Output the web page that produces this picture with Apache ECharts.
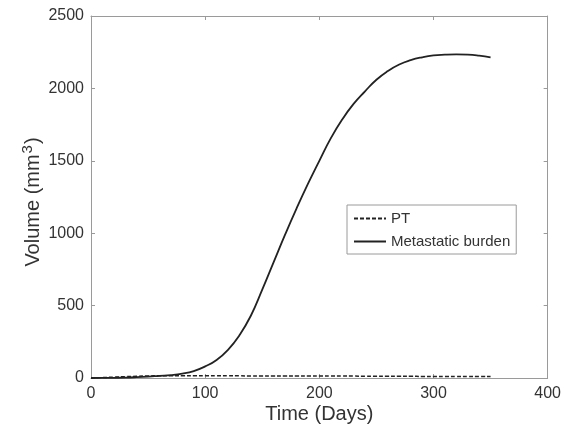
<!DOCTYPE html>
<html>
<head>
<meta charset="utf-8">
<script src="https://cdn.jsdelivr.net/npm/echarts@6/dist/echarts.min.js"></script>
<style>html,body{margin:0;padding:0;background:#fff;}#c{width:564px;height:431px;}</style>
</head>
<body>
<div id="c"></div>
<script>
var days = [0,10,20,30,40,50,60,70,80,90,100,110,120,130,140,150,160,170,180,190,200,210,220,230,240,250,260,270,280,290,300,310,320,330,340,350];
var metastatic = [0,0.5,1.5,3,6,10,15,20,30,48,80,125,195,295,430,610,800,990,1170,1340,1500,1655,1785,1893,1980,2060,2120,2165,2195,2215,2228,2233,2235,2233,2226,2215];
var pt = [0,3,6,9,12,14,15,15,15,15,15,15,15,15,14,14,14,14,14,13,13,13,13,13,12,12,12,12,12,11,11,11,11,11,10,10];
var xTicks = [0,100,200,300,400];
var yTicks = [0,500,1000,1500,2000,2500];
var seriesNames = ['PT','Metastatic burden'];

function pairs(xs, ys){ return xs.map(function(x,i){ return [x, ys[i]]; }); }

var FONT = 'Liberation Sans, Arial, Helvetica, sans-serif';
var chart = echarts.init(document.getElementById('c'), null, {renderer:'canvas'});
function axisCommon(){
  return {
    axisLine:{show:true, onZero:false, lineStyle:{color:'#9a9a9a', width:1}},
    axisTick:{show:true, inside:true, length:4, lineStyle:{color:'#9a9a9a'}},
    splitLine:{show:false}
  };
}
chart.setOption({
  animation:false,
  backgroundColor:'#fff',
  grid:{left:91, right:14, top:16, bottom:53, show:false},
  legend:{
    orient:'vertical', left:347, top:205,
    data:seriesNames,
    itemWidth:32, itemHeight:14, itemGap:8,
    padding:[6,6,5,6],
    borderColor:'#9a9a9a', borderWidth:1,
    itemStyle:{opacity:0},
    textStyle:{fontFamily:FONT, fontSize:15, color:'#333'}
  },
  xAxis:[
    Object.assign({type:'value', min:0, max:400, interval:100, position:'bottom',
      name:'Time (Days)', nameLocation:'middle', nameGap:26, nameMoveOverlap:false,
      nameTextStyle:{fontFamily:FONT, fontSize:20, color:'#333'},
      axisLabel:{fontFamily:FONT, fontSize:16, color:'#333', margin:8,
        formatter:function(v){ return xTicks.indexOf(v)>=0 ? String(v) : ''; }}
    }, axisCommon()),
    Object.assign({type:'value', min:0, max:400, interval:100, position:'top', axisLabel:{show:false}}, axisCommon())
  ],
  yAxis:[
    Object.assign({type:'value', min:0, max:2500, interval:500, position:'left',
      name:'Volume (mm{sup|3})', nameLocation:'middle', nameGap:44, nameMoveOverlap:false,
      nameTextStyle:{fontFamily:FONT, fontSize:20, color:'#333', padding:[0,10,0,0],
        rich:{sup:{fontFamily:FONT, fontSize:15, color:'#333', padding:[0,1,12,1]}}},
      axisLabel:{fontFamily:FONT, fontSize:16, color:'#333', margin:7,
        formatter:function(v){ return yTicks.indexOf(v)>=0 ? String(v) : ''; }}
    }, axisCommon()),
    Object.assign({type:'value', min:0, max:2500, interval:500, position:'right', axisLabel:{show:false}}, axisCommon())
  ],
  series:[
    {name:seriesNames[0], type:'line', symbol:'none', smooth:true, data:pairs(days, pt),
      lineStyle:{color:'#222', width:1.5, type:[4,2]}, itemStyle:{color:'#222'}, z:3},
    {name:seriesNames[1], type:'line', symbol:'none', smooth:true, data:pairs(days, metastatic),
      lineStyle:{color:'#222', width:1.8, type:'solid'}, itemStyle:{color:'#222'}, z:4}
  ]
});
</script>
</body>
</html>
